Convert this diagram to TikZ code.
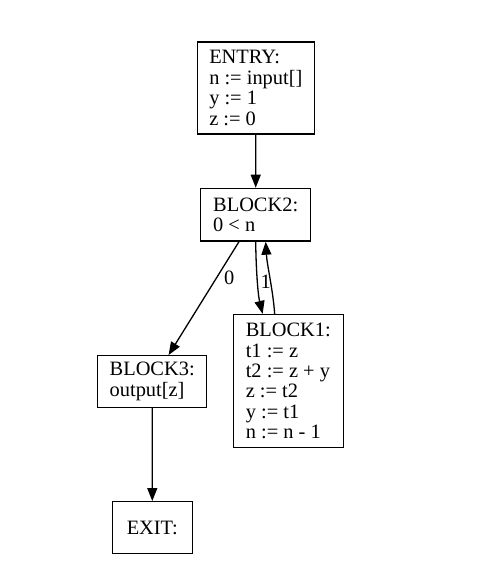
\documentclass[tikz,border=0pt]{standalone}
\usepackage{fontspec}
\setmainfont{Liberation Serif}
\usetikzlibrary{arrows.meta,calc}
\begin{document}
\begin{tikzpicture}[x=1pt,y=-1pt,
  blk/.style={draw,line width=1.3pt,rectangle,align=left,inner xsep=4pt,inner ysep=0pt,
    font=\fontsize{20.4}{20.4}\selectfont},
  arr/.style={line width=1.3pt,-{Triangle[length=13pt,width=10pt]}},
  lbl/.style={font=\fontsize{20.4}{20.4}\selectfont,inner sep=0pt}]
\useasboundingbox (0,0) rectangle (479,576);
\node[blk,minimum width=117pt,minimum height=92pt] (entry) at (255.8,88)
  {ENTRY:\\n := input[]\\y := 1\\z := 0};
\node[blk,minimum width=110pt,minimum height=52.7pt] (block2) at (255.7,214.7)
  {BLOCK2:\\0 < n};
\node[blk,minimum width=110pt,minimum height=133pt] (block1) at (288.3,381)
  {BLOCK1:\\t1 := z\\t2 := z + y\\z := t2\\y := t1\\n := n - 1};
\node[blk,minimum width=109pt,minimum height=51.6pt] (block3) at (152.2,381.5)
  {BLOCK3:\\output[z]};
\node[blk,align=center,minimum width=80pt,minimum height=51.6pt] (exit) at (152.3,527.5)
  {EXIT:};
\draw[arr] (entry.south) -- (block2.north);
\draw[arr] (block2) -- node[lbl,pos=0.32,anchor=west,xshift=7pt] (l0) {0} (block3);
\draw[arr] (block2.south) .. controls (256,270) and (258,295) .. ($(block1.north west)+(30,0)$)
  node[lbl,pos=0.5,anchor=west,xshift=2.5pt] (l1) {1};
\draw[arr] ($(block1.north west)+(42,0)$) .. controls (273,290) and (267,265) .. ($(block2.south)+(10,0)$);
\draw[arr] (block3.south) -- (exit.north);
\end{tikzpicture}
\end{document}
